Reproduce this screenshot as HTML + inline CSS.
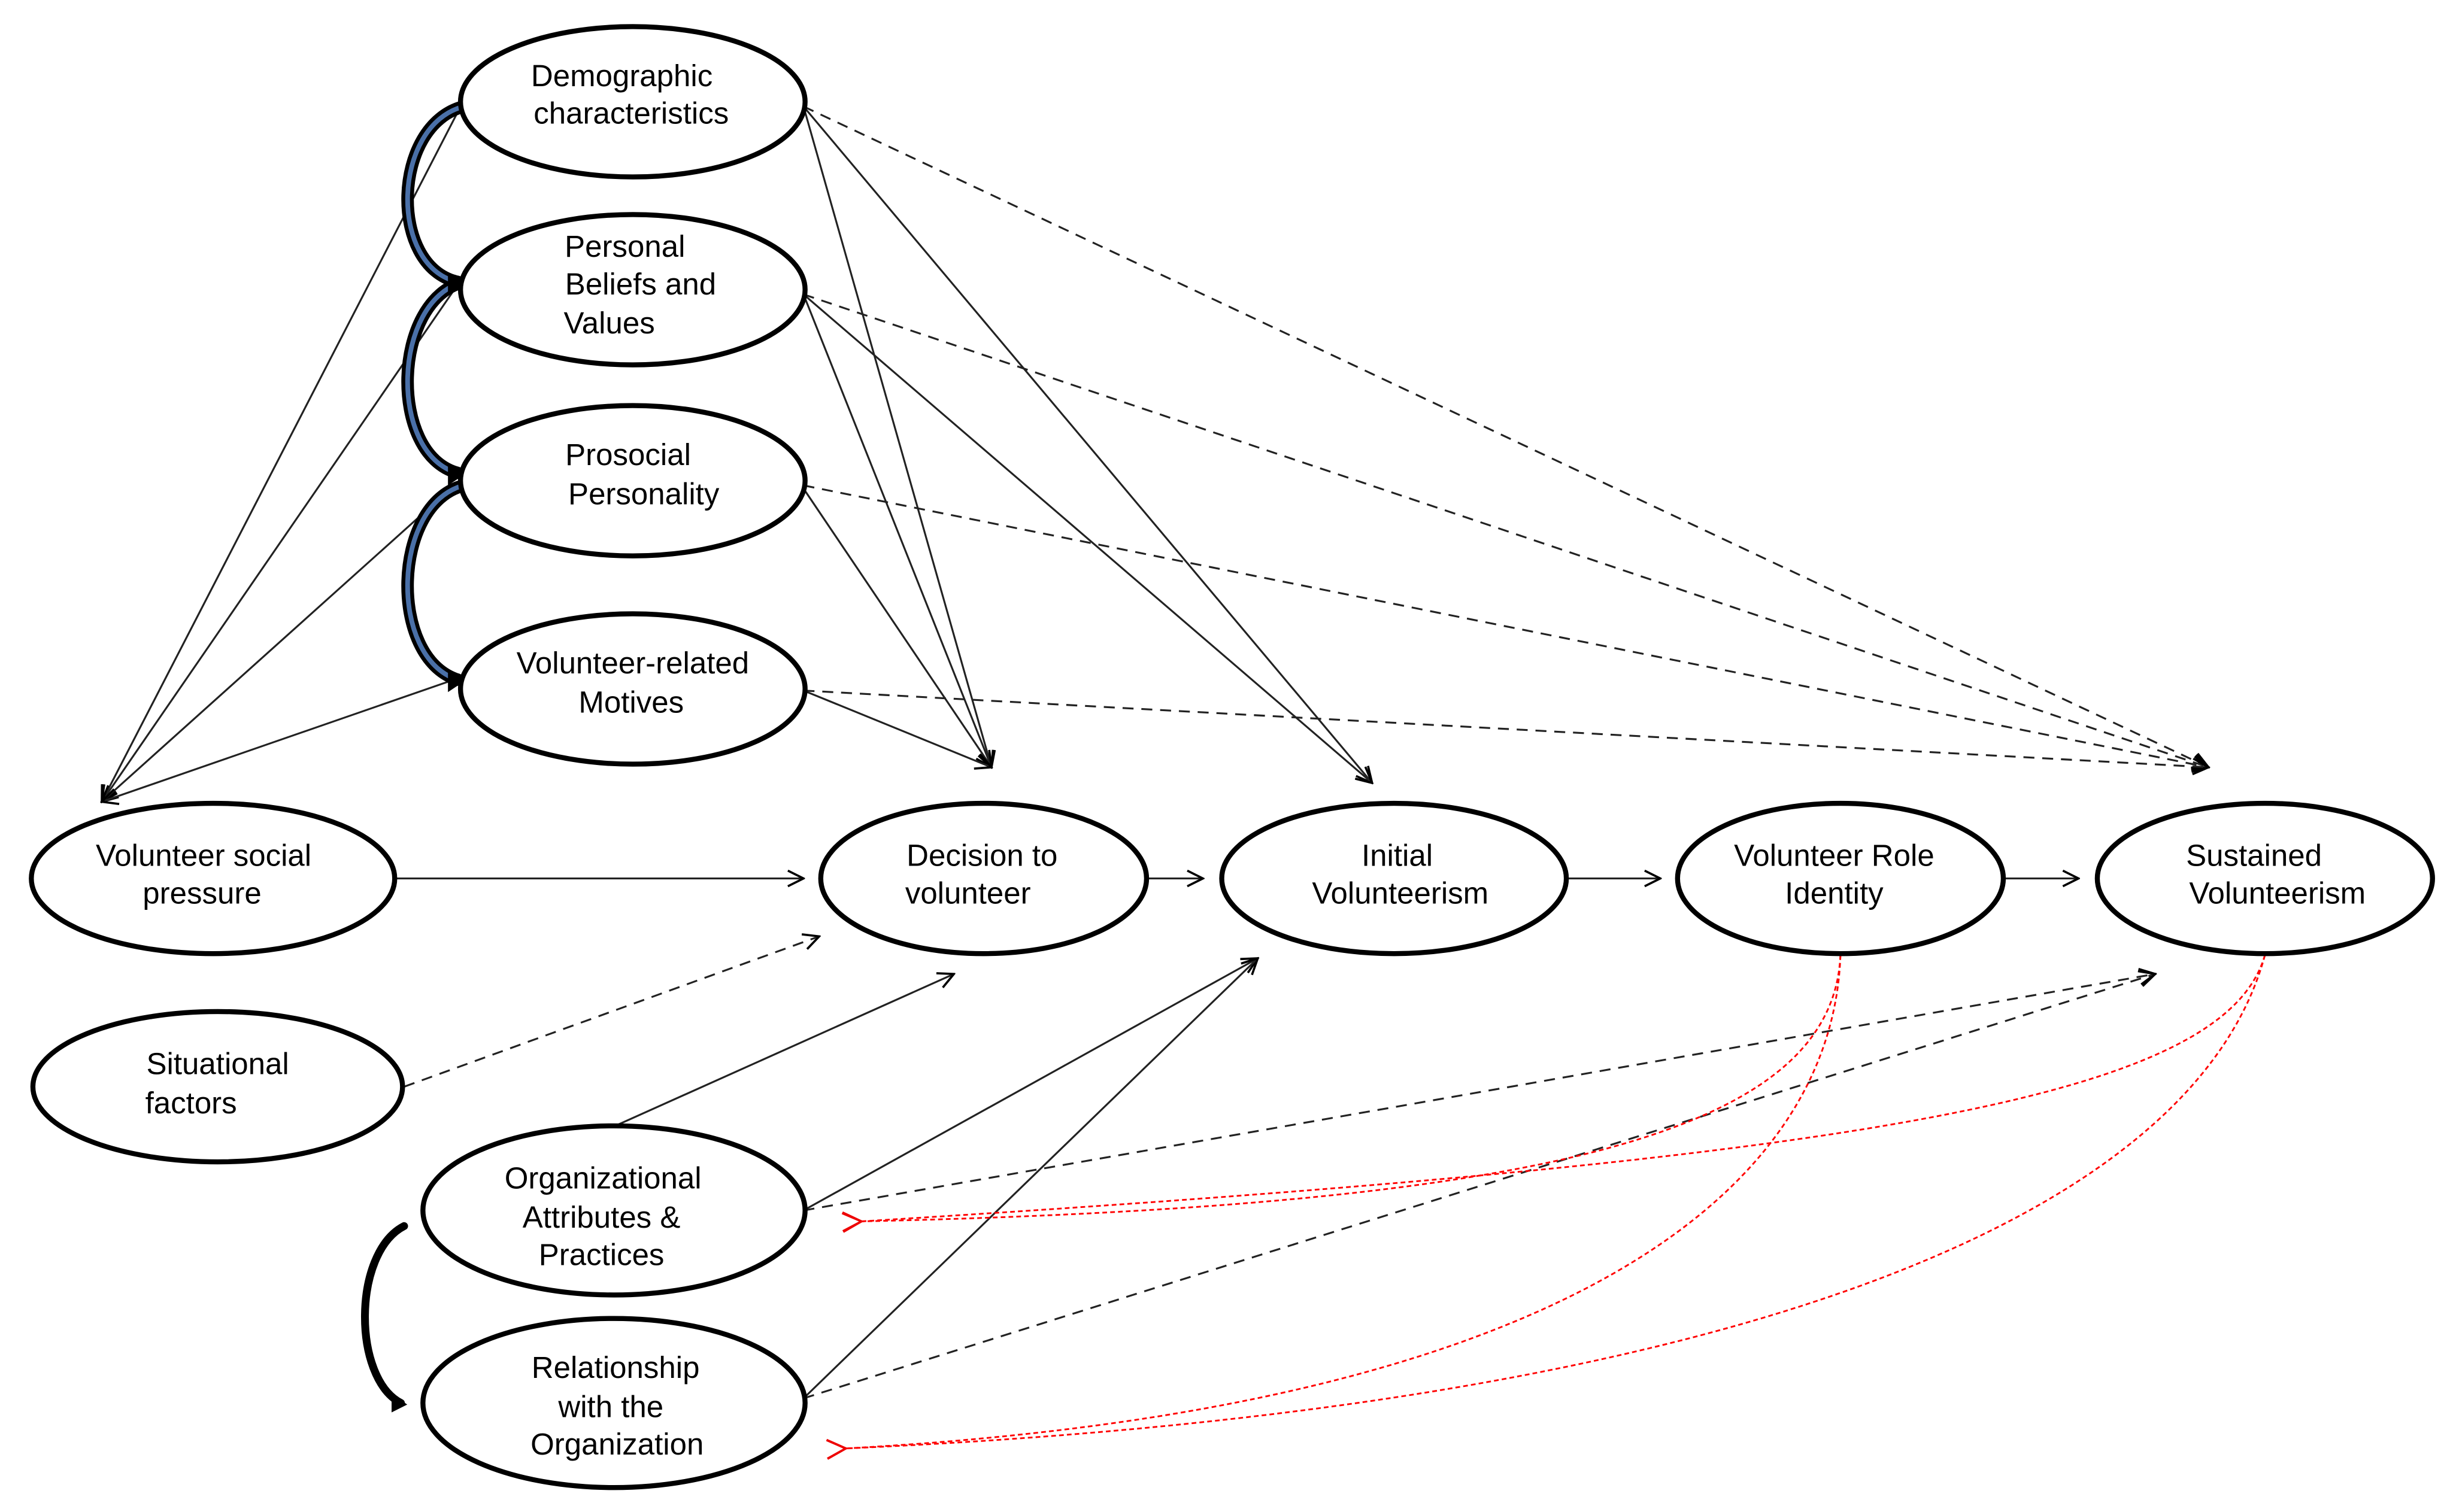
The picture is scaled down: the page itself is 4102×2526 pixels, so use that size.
<!DOCTYPE html>
<html><head><meta charset="utf-8"><style>
html,body{margin:0;padding:0;background:#fff}
svg{display:block}
text{font-family:"Liberation Sans",sans-serif;font-size:19.5px;fill:#000;text-anchor:middle}
</style></head><body>
<svg width="4102" height="2526" viewBox="0 0 1568 965.6" preserveAspectRatio="none" xmlns="http://www.w3.org/2000/svg">
<defs>
<marker id="a" viewBox="0 0 12 12" refX="11" refY="6" markerWidth="12" markerHeight="12" markerUnits="userSpaceOnUse" orient="auto">
<polyline points="1,1 11,6 1,11" fill="none" stroke="#000" stroke-width="1.4"/></marker>
<marker id="r" viewBox="0 0 14 14" refX="1" refY="7" markerWidth="14" markerHeight="14" markerUnits="userSpaceOnUse" orient="auto">
<polyline points="13,1 1,7 13,13" fill="none" stroke="#e00" stroke-width="1.4"/></marker>
</defs>
<rect width="1568" height="966" fill="#fff"/>
<g stroke="#222" stroke-width="1.2" fill="none" marker-end="url(#a)">
<line x1="292" y1="72" x2="65" y2="512"/>
<line x1="290" y1="185" x2="65" y2="512"/>
<line x1="290" y1="310" x2="65" y2="512"/>
<line x1="290" y1="434" x2="65" y2="512"/>
<line x1="513" y1="68" x2="633" y2="490"/>
<line x1="513" y1="188" x2="633" y2="490"/>
<line x1="513" y1="312" x2="633" y2="490"/>
<line x1="513" y1="441" x2="633" y2="490"/>
<line x1="513" y1="68" x2="876" y2="500"/>
<line x1="513" y1="188" x2="876" y2="500"/>
<line x1="252" y1="561" x2="513" y2="561"/>
<line x1="733" y1="561" x2="768" y2="561"/>
<line x1="1001" y1="561" x2="1060" y2="561"/>
<line x1="1280" y1="561" x2="1327" y2="561"/>
<line x1="395" y1="718" x2="609" y2="622"/>
<line x1="513" y1="773" x2="803" y2="612"/>
<line x1="513" y1="893" x2="803" y2="612"/>
</g>
<g stroke="#222" stroke-width="1.2" fill="none" stroke-dasharray="7,5" marker-end="url(#a)">
<line x1="513" y1="68" x2="1410" y2="490"/>
<line x1="513" y1="188" x2="1410" y2="490"/>
<line x1="513" y1="310" x2="1410" y2="490"/>
<line x1="513" y1="441" x2="1410" y2="490"/>
<line x1="258" y1="694" x2="523" y2="598"/>
<line x1="513" y1="773" x2="1376" y2="622"/>
<line x1="513" y1="893" x2="1376" y2="622"/>
</g>
<g stroke="#f00" stroke-width="1.1" fill="none" stroke-dasharray="3,2" marker-end="url(#r)">
<path d="M1175,610 C1170,720 1000,770 550,780"/>
<path d="M1446,610 C1420,700 1200,740 550,780"/>
<path d="M1175,610 C1170,760 1000,900 540,925"/>
<path d="M1446,610 C1400,780 1100,900 540,925"/>
</g>
<g fill="none" stroke-linecap="round">
<path d="M296,68 C250,80 248,170 292,180" stroke="#000" stroke-width="8"/>
<path d="M296,68 C250,80 248,170 292,180" stroke="#4a70a8" stroke-width="3"/>
<path d="M296,180 C250,192 248,290 292,302" stroke="#000" stroke-width="8"/>
<path d="M296,180 C250,192 248,290 292,302" stroke="#4a70a8" stroke-width="3"/>
<path d="M296,310 C250,322 248,420 292,434" stroke="#000" stroke-width="8"/>
<path d="M296,310 C250,322 248,420 292,434" stroke="#4a70a8" stroke-width="3"/>
<path d="M258,783 C225,800 225,880 256,896" stroke="#000" stroke-width="5"/>
</g>
<g fill="#000"><polygon points="286,174 298,180 286,188"/><polygon points="286,296 298,302 286,310"/><polygon points="286,428 298,434 286,442"/><polygon points="250,890 260,897 250,902"/></g>
<g fill="#fff" stroke="#000" stroke-width="3.2">
<ellipse cx="404" cy="65" rx="110" ry="48"/>
<ellipse cx="404" cy="185" rx="110" ry="48"/>
<ellipse cx="404" cy="307" rx="110" ry="48"/>
<ellipse cx="404" cy="440" rx="110" ry="48"/>
<ellipse cx="136" cy="561" rx="116" ry="48"/>
<ellipse cx="139" cy="694" rx="118" ry="48"/>
<ellipse cx="628" cy="561" rx="104" ry="48"/>
<ellipse cx="890" cy="561" rx="110" ry="48"/>
<ellipse cx="1175" cy="561" rx="104" ry="48"/>
<ellipse cx="1446" cy="561" rx="107" ry="48"/>
<ellipse cx="392" cy="773" rx="122" ry="54"/>
<ellipse cx="392" cy="896" rx="122" ry="54"/>
</g>
<text x="397" y="55">Demographic</text><text x="403" y="79">characteristics</text>
<text x="399" y="164">Personal</text><text x="409" y="188">Beliefs and</text><text x="389" y="213">Values</text>
<text x="401" y="297">Prosocial</text><text x="411" y="322">Personality</text>
<text x="404" y="430">Volunteer-related</text><text x="403" y="455">Motives</text>
<text x="130" y="553">Volunteer social</text><text x="129" y="577">pressure</text>
<text x="139" y="686">Situational</text><text x="122" y="711">factors</text>
<text x="627" y="553">Decision to</text><text x="618" y="577">volunteer</text>
<text x="892" y="553">Initial</text><text x="894" y="577">Volunteerism</text>
<text x="1171" y="553">Volunteer Role</text><text x="1171" y="577">Identity</text>
<text x="1439" y="553">Sustained</text><text x="1454" y="577">Volunteerism</text>
<text x="385" y="759">Organizational</text><text x="384" y="784">Attributes  &amp;</text><text x="384" y="808">Practices</text>
<text x="393" y="880">Relationship</text><text x="390" y="905">with the</text><text x="394" y="929">Organization</text>
</svg>
</body></html>
